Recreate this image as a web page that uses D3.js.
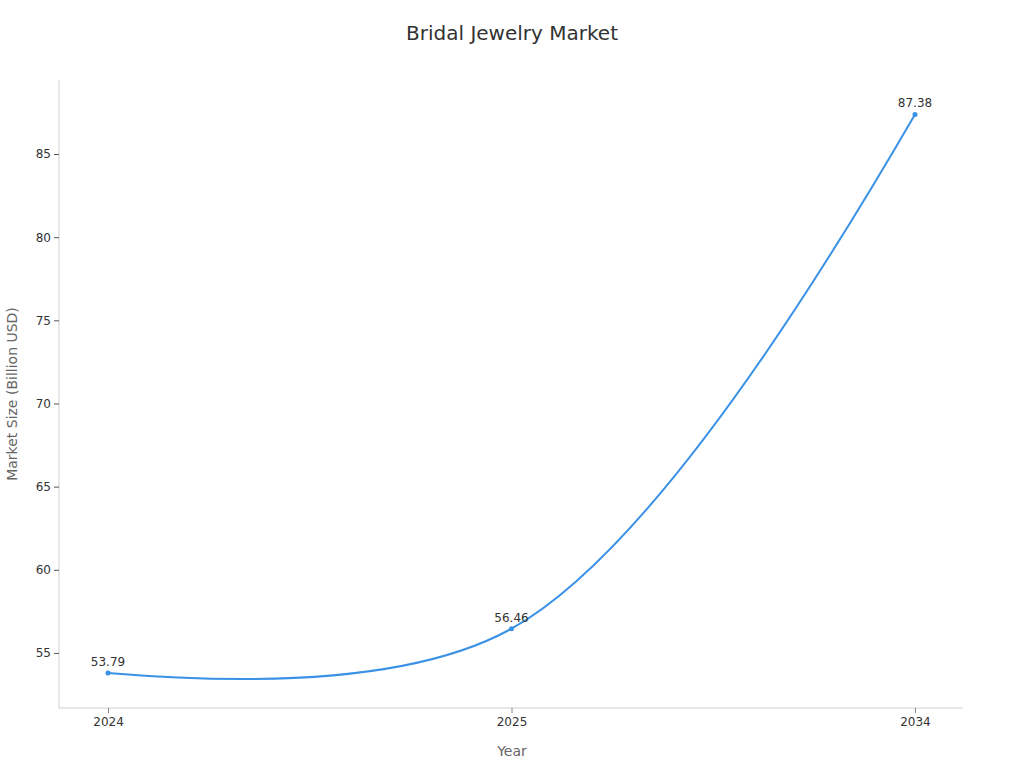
<!DOCTYPE html>
<html><head><meta charset="utf-8">
<script src="https://cdn.jsdelivr.net/npm/d3@7"></script>
<style>body{margin:0;background:#fff;font-family:"DejaVu Sans",sans-serif;}</style>
</head><body><svg id="c" width="1024" height="768"></svg>
<script>
const categories = ["2024", "2025", "2034"];
const values = [53.79, 56.46, 87.38];
const yTicks = [55, 60, 65, 70, 75, 80, 85];

(function () {
// Custom d3 curve: centripetal-tangent spline with quadratic end segments
function splineCurve(context) {
  let pts = [];
  const smooth = 1;
  function tangent(p0, p1, p2) {
    const d1x = p0[0] - p1[0], d1y = p0[1] - p1[1];
    const d2x = p2[0] - p1[0], d2y = p2[1] - p1[1];
    const d1a = Math.pow(d1x * d1x + d1y * d1y, 0.25);
    const d2a = Math.pow(d2x * d2x + d2y * d2y, 0.25);
    const nx = (d2a * d2a * d1x - d1a * d1a * d2x) * smooth;
    const ny = (d2a * d2a * d1y - d1a * d1a * d2y) * smooth;
    const den1 = 3 * d2a * (d1a + d2a), den2 = 3 * d1a * (d1a + d2a);
    return [[p1[0] + nx / den1, p1[1] + ny / den1], [p1[0] - nx / den2, p1[1] - ny / den2]];
  }
  return {
    areaStart() {}, areaEnd() {},
    lineStart() { pts = []; },
    point(x, y) { pts.push([+x, +y]); },
    lineEnd() {
      const n = pts.length;
      if (!n) return;
      context.moveTo(pts[0][0], pts[0][1]);
      if (n === 2) { context.lineTo(pts[1][0], pts[1][1]); return; }
      const t = [];
      for (let i = 1; i < n - 1; i++) t.push(tangent(pts[i - 1], pts[i], pts[i + 1]));
      context.quadraticCurveTo(t[0][0][0], t[0][0][1], pts[1][0], pts[1][1]);
      for (let i = 1; i < n - 2; i++)
        context.bezierCurveTo(t[i - 1][1][0], t[i - 1][1][1], t[i][0][0], t[i][0][1], pts[i + 1][0], pts[i + 1][1]);
      const last = t[t.length - 1][1];
      context.quadraticCurveTo(last[0], last[1], pts[n - 1][0], pts[n - 1][1]);
    }
  };
}

const svg = d3.select("#c");
const mLeft = 59, mRight = 963, mTop = 80, mBottom = 708;
const x = d3.scalePoint().domain(categories).range([mLeft + 1, mRight]).padding(0.119);
const y = d3.scaleLinear().domain([51.69, 89.45]).range([mBottom, mTop]);

svg.append("text").attr("x", 512).attr("y", 40).attr("text-anchor", "middle")
  .attr("font-size", 20).attr("fill", "#333").text("Bridal Jewelry Market");

const ya = svg.append("g").attr("transform", `translate(${mLeft},0)`)
  .call(d3.axisLeft(y).tickValues(yTicks).tickSize(5).tickPadding(3));
ya.select(".domain").attr("stroke", "#d0d0d0").attr("d", `M0,${mTop}V${mBottom}`);
ya.selectAll(".tick line").attr("stroke", "#555");
ya.selectAll(".tick text").attr("font-size", 12).attr("fill", "#333").attr("font-family", "DejaVu Sans");

const xa = svg.append("g").attr("transform", `translate(0,${mBottom})`)
  .call(d3.axisBottom(x).tickSize(5).tickPadding(4).tickSizeOuter(0));
xa.select(".domain").attr("stroke", "#d0d0d0").attr("d", `M${mLeft},0H${mRight}`);
xa.selectAll(".tick line").attr("stroke", "#888");
xa.selectAll(".tick text").attr("font-size", 12).attr("fill", "#333").attr("font-family", "DejaVu Sans");

svg.append("text").attr("x", 512).attr("y", 756).attr("text-anchor", "middle")
  .attr("font-size", 14).attr("fill", "#666").text("Year");
svg.append("text").attr("transform", "translate(17,394) rotate(-90)").attr("text-anchor", "middle")
  .attr("font-size", 14).attr("fill", "#666").text("Market Size (Billion USD)");

const data = categories.map((c, i) => ({c, v: values[i]}));
const line = d3.line().x(d => x(d.c)).y(d => y(d.v)).curve(splineCurve);
svg.append("path").datum(data).attr("d", line).attr("fill", "none")
  .attr("stroke", "#3a91e6").attr("stroke-width", 2);
svg.selectAll("circle.pt").data(data).enter().append("circle")
  .attr("cx", d => x(d.c)).attr("cy", d => y(d.v)).attr("r", 2.5).attr("fill", "#3a91e6");
svg.selectAll("text.lbl").data(data).enter().append("text")
  .attr("x", d => x(d.c)).attr("y", d => y(d.v) - 7).attr("text-anchor", "middle")
  .attr("font-size", 12).attr("fill", "#333").text(d => d.v.toFixed(2));
})();
</script></body></html>
